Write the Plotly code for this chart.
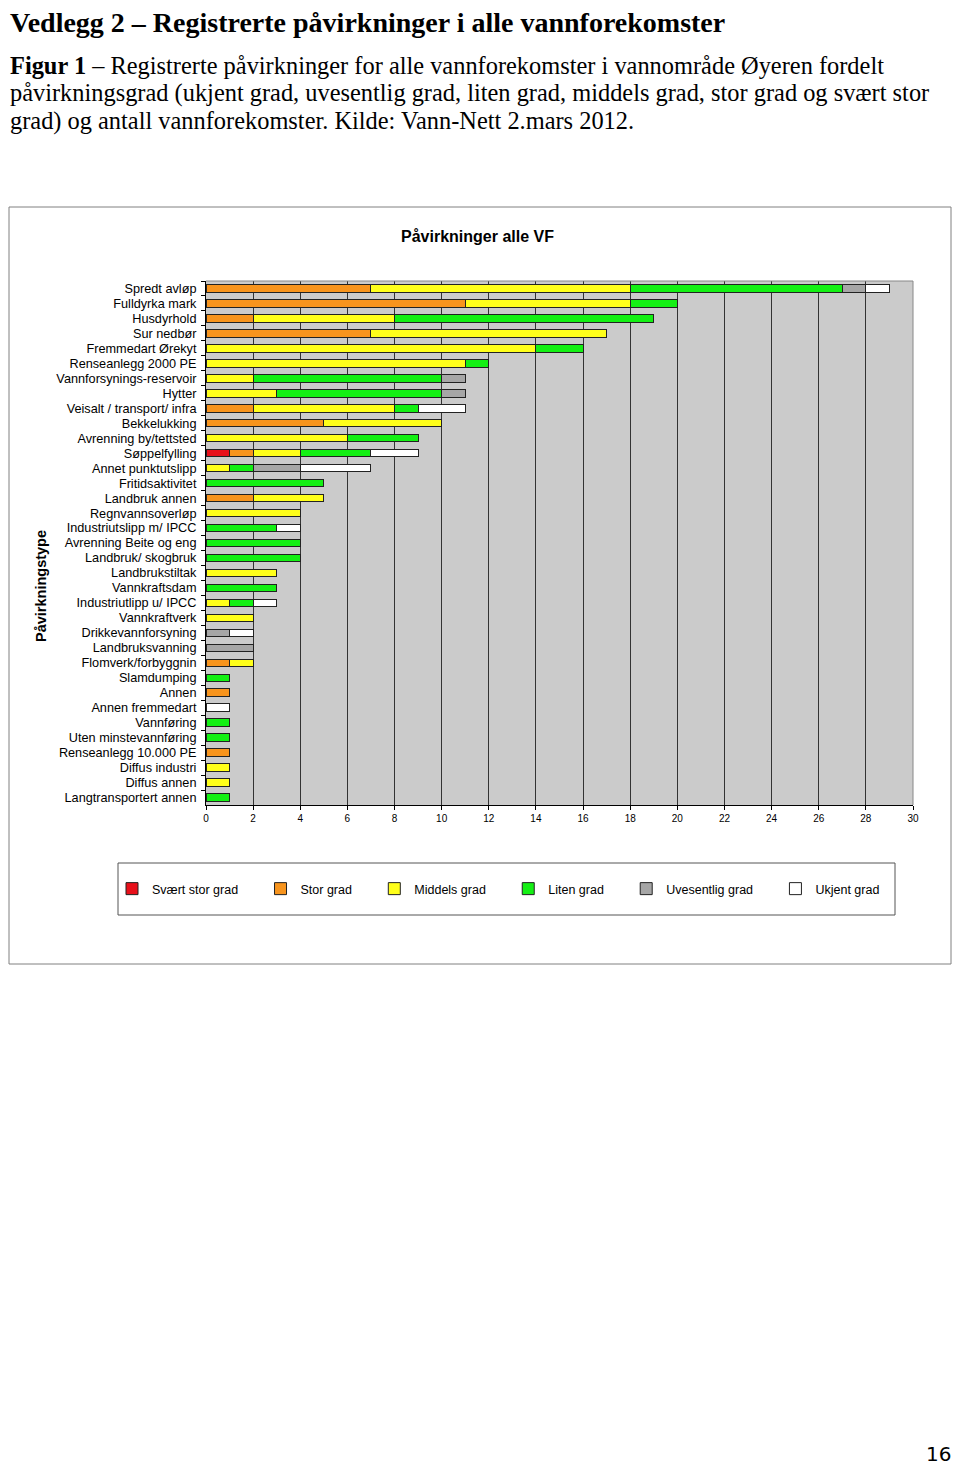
import plotly.graph_objects as go

SERIF = "Liberation Serif, Times New Roman, serif"
SANS = "Liberation Sans, Arial, sans-serif"

# ── Data ──────────────────────────────────────────────────────────────────────
categories = [
    "Spredt avløp", "Fulldyrka mark", "Husdyrhold", "Sur nedbør",
    "Fremmedart Ørekyt", "Renseanlegg 2000 PE", "Vannforsynings-reservoir",
    "Hytter", "Veisalt / transport/ infra", "Bekkelukking",
    "Avrenning by/tettsted", "Søppelfylling", "Annet punktutslipp",
    "Fritidsaktivitet", "Landbruk annen", "Regnvannsoverløp",
    "Industriutslipp m/ IPCC", "Avrenning Beite og eng", "Landbruk/ skogbruk",
    "Landbrukstiltak", "Vannkraftsdam", "Industriutlipp u/ IPCC",
    "Vannkraftverk", "Drikkevannforsyning", "Landbruksvanning",
    "Flomverk/forbyggnin", "Slamdumping", "Annen", "Annen fremmedart",
    "Vannføring", "Uten minstevannføring", "Renseanlegg 10.000 PE",
    "Diffus industri", "Diffus annen", "Langtransportert annen",
]

svaert_stor = [0, 0, 0, 0, 0, 0, 0, 0, 0, 0, 0, 1, 0, 0, 0, 0, 0, 0, 0, 0, 0, 0, 0, 0, 0, 0, 0, 0, 0, 0, 0, 0, 0, 0, 0]
stor        = [7, 11, 2, 7, 0, 0, 0, 0, 2, 5, 0, 1, 0, 0, 2, 0, 0, 0, 0, 0, 0, 0, 0, 0, 0, 1, 0, 1, 0, 0, 0, 1, 0, 0, 0]
middels     = [11, 7, 6, 10, 14, 11, 2, 3, 6, 5, 6, 2, 1, 0, 3, 4, 0, 0, 0, 3, 0, 1, 2, 0, 0, 1, 0, 0, 0, 0, 0, 0, 1, 1, 0]
liten       = [9, 2, 11, 0, 2, 1, 8, 7, 1, 0, 3, 3, 1, 5, 0, 0, 3, 4, 4, 0, 3, 1, 0, 0, 0, 0, 1, 0, 0, 1, 1, 0, 0, 0, 1]
uvesentlig  = [1, 0, 0, 0, 0, 0, 1, 1, 0, 0, 0, 0, 2, 0, 0, 0, 0, 0, 0, 0, 0, 0, 0, 1, 2, 0, 0, 0, 0, 0, 0, 0, 0, 0, 0]
ukjent      = [1, 0, 0, 0, 0, 0, 0, 0, 2, 0, 0, 2, 3, 0, 0, 0, 1, 0, 0, 0, 0, 1, 0, 1, 0, 0, 0, 0, 1, 0, 0, 0, 0, 0, 0]

series_names = ["Svært stor grad", "Stor grad", "Middels grad", "Liten grad",
                "Uvesentlig grad", "Ukjent grad"]
series_values = [svaert_stor, stor, middels, liten, uvesentlig, ukjent]
series_colors = ["#E8101A", "#F7941D", "#FFFF1A", "#14F014", "#A6A6A6", "#FFFFFF"]

# ── Geometry helpers (page pixels -> paper coords) ────────────────────────────
OFF = 8                               # body margin around the plot div
W, H = 960 - 2 * OFF, 1475 - 2 * OFF  # keep the page free of scrollbars
PL, PR, PT, PB = 206, 913, 281, 805   # plot area in page pixels


def px(x):
    return (x - PL) / (PR - PL)


def py(y):
    return (PB - y) / (PB - PT)


PAD = "\u00a0" * 5  # widen legend entries like the original

fig = go.Figure()
for name, vals, col in zip(series_names, series_values, series_colors):
    fig.add_trace(go.Bar(
        y=categories,
        x=[v if v else None for v in vals],
        name=name + PAD,
        orientation="h",
        marker=dict(color=col, line=dict(color="#222222", width=1)),
    ))

fig.update_layout(
    width=W, height=H,
    barmode="stack",
    bargap=0.5,
    paper_bgcolor="white",
    plot_bgcolor="#CBCBCB",
    margin=dict(l=PL - OFF, r=OFF + W - PR, t=PT - OFF, b=OFF + H - PB,
                autoexpand=False),
    font=dict(family=SANS, color="black"),
    showlegend=True,
    legend=dict(
        orientation="h", x=px(112), xanchor="left", y=py(889), yanchor="middle",
        bgcolor="rgba(0,0,0,0)", borderwidth=0, traceorder="normal",
        font=dict(family=SANS, size=12.5, color="black"), itemwidth=30,
    ),
    xaxis=dict(
        range=[0, 30], dtick=2, showgrid=True, gridcolor="#333333", gridwidth=1,
        zeroline=False, showline=True, linecolor="black", linewidth=1,
        ticks="outside", ticklen=4, tickcolor="black",
        tickfont=dict(family=SANS, size=10, color="black"),
    ),
    yaxis=dict(
        autorange="reversed", showgrid=False, zeroline=False, showline=True,
        linecolor="black", linewidth=1, ticks="outside", ticklen=4,
        tickmode="linear", tick0=0, dtick=1,
        tickcolor="black", tickson="boundaries", ticklabelstandoff=6,
        tickfont=dict(family=SANS, size=12.7, color="black"),
    ),
)

shapes = [
    # outer chart frame
    dict(type="rect", xref="paper", yref="paper", x0=px(9), x1=px(951),
         y0=py(964), y1=py(207), line=dict(color="#808080", width=1)),
    # legend frame
    dict(type="rect", xref="paper", yref="paper", x0=px(118), x1=px(895),
         y0=py(915), y1=py(863), line=dict(color="#555555", width=1)),
    # top and right edges of plot area
    dict(type="line", xref="paper", yref="paper", x0=0, x1=1, y0=1, y1=1,
         line=dict(color="#888888", width=1)),
    dict(type="line", xref="paper", yref="paper", x0=1, x1=1, y0=0, y1=1,
         line=dict(color="#888888", width=1)),
]
fig.update_layout(shapes=shapes)

annotations = [
    dict(text="<b>Vedlegg 2 – Registrerte påvirkninger i alle vannforekomster</b>",
         x=px(8), y=py(23), xanchor="left", yanchor="middle",
         font=dict(family=SERIF, size=28, color="black")),
    dict(text="<b>Figur 1</b> – Registrerte påvirkninger for alle vannforekomster i vannområde Øyeren fordelt",
         x=px(8), y=py(65), xanchor="left", yanchor="middle",
         font=dict(family=SERIF, size=24.4, color="black")),
    dict(text="påvirkningsgrad (ukjent grad, uvesentlig grad, liten grad, middels grad, stor grad og svært stor",
         x=px(8), y=py(93), xanchor="left", yanchor="middle",
         font=dict(family=SERIF, size=24.4, color="black")),
    dict(text="grad) og antall vannforekomster. Kilde: Vann-Nett 2.mars 2012.",
         x=px(8), y=py(121), xanchor="left", yanchor="middle",
         font=dict(family=SERIF, size=24.4, color="black")),
    dict(text="<b>Påvirkninger alle VF</b>",
         x=px(477), y=py(236), xanchor="center", yanchor="middle",
         font=dict(family=SANS, size=16, color="black")),
    dict(text="<b>Påvirkningstype</b>", textangle=-90,
         x=px(41), y=py(586), xanchor="center", yanchor="middle",
         font=dict(family=SANS, size=14.5, color="black")),
    dict(text="16", x=px(938), y=py(1454), xanchor="center", yanchor="middle",
         font=dict(family="DejaVu Sans", size=20, color="black")),
]
for a in annotations:
    a.update(xref="paper", yref="paper", showarrow=False)
fig.update_layout(annotations=annotations)

fig.write_html("out.html")
